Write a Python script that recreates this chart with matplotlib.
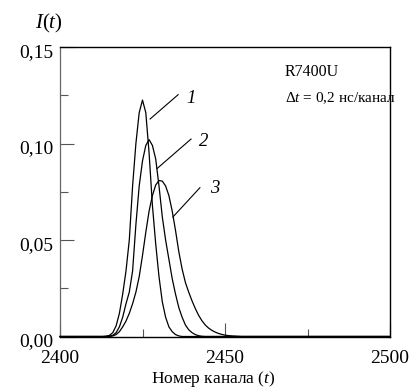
import numpy as np
import matplotlib
matplotlib.use("Agg")
import matplotlib.pyplot as plt
import matplotlib.transforms as mtransforms

plt.rcParams['font.family'] = ['Liberation Serif', 'DejaVu Serif']
plt.rcParams['mathtext.fontset'] = 'custom'
plt.rcParams['mathtext.rm'] = 'Liberation Serif'
plt.rcParams['mathtext.it'] = 'Liberation Serif:italic'
plt.rcParams['mathtext.bf'] = 'Liberation Serif:bold'

# channel axis
channels = np.arange(2400, 2501)

# curve 1 (non-zero region starting at channel 2413)
c1_start = 2413
c1_vals = [0.0000, 0.0002, 0.0006, 0.0020, 0.0055, 0.0120, 0.0220, 0.0340,
           0.0500, 0.0780, 0.1000, 0.1160, 0.1225, 0.1160, 0.0950, 0.0680,
           0.0480, 0.0310, 0.0180, 0.0100, 0.0050, 0.0025, 0.0010, 0.0003, 0.0000]

# curve 2
c2_start = 2414
c2_vals = [0.0000, 0.0002, 0.0006, 0.0020, 0.0050, 0.0100, 0.0170, 0.0230,
           0.0340, 0.0580, 0.0780, 0.0910, 0.0990, 0.1020, 0.0990, 0.0920,
           0.0780, 0.0620, 0.0500, 0.0400, 0.0300, 0.0220, 0.0150, 0.0100,
           0.0060, 0.0035, 0.0020, 0.0010, 0.0004, 0.0001, 0.0000]

# curve 3
c3_start = 2415
c3_vals = [0.0000, 0.0003, 0.0010, 0.0025, 0.0050, 0.0080, 0.0120, 0.0170,
           0.0230, 0.0310, 0.0420, 0.0540, 0.0650, 0.0730, 0.0785, 0.0808,
           0.0805, 0.0780, 0.0730, 0.0650, 0.0550, 0.0440, 0.0350, 0.0280,
           0.0230, 0.0185, 0.0145, 0.0110, 0.0082, 0.0060, 0.0044, 0.0032,
           0.0023, 0.0016, 0.0011, 0.0007, 0.0005, 0.0003, 0.0002, 0.0001, 0.0000]

curve_labels = ['1', '2', '3']
# leader lines: (curve point) -> (label end), label position
leader_from = [(2427.3, 0.1127), (2429.4, 0.0870), (2434.2, 0.0619)]
leader_to = [(2435.8, 0.1253), (2439.7, 0.1023), (2442.4, 0.0771)]
label_pos = [(2438.3, 0.1235), (2442.0, 0.1012), (2445.6, 0.0766)]

x_ticks_major = [2400, 2450, 2500]
x_tick_labels = ['2400', '2450', '2500']
y_ticks_major = [0.00, 0.05, 0.10, 0.15]
y_tick_labels = ['0,00', '0,05', '0,10', '0,15']


def full_series(start, vals):
    y = np.zeros_like(channels, dtype=float)
    i0 = start - channels[0]
    y[i0:i0 + len(vals)] = vals
    return y


W, H = 409, 390
fig = plt.figure(figsize=(W / 100, H / 100), dpi=100)
ax = fig.add_axes([60 / W, (H - 336.5) / H, 330 / W, 289.5 / H])

for start, vals in [(c1_start, c1_vals), (c2_start, c2_vals), (c3_start, c3_vals)]:
    ax.plot(channels, full_series(start, vals), color='black', lw=0.9,
            clip_on=False, zorder=3)

for (x0, y0), (x1, y1), (tx, ty), lab in zip(leader_from, leader_to, label_pos, curve_labels):
    ax.plot([x0, x1], [y0, y1], color='black', lw=0.8)
    ax.text(tx, ty, lab, fontsize=13.5, fontstyle='italic', ha='left', va='center')

fig.text(285 / W, 1 - 72 / H, 'R7400U', fontsize=11.5, ha='left', va='center')
fig.text(285 / W, 1 - 98 / H, r'$\Delta t$ = 0,2 нс/канал', fontsize=11, ha='left', va='center')

ax.set_xlim(2400, 2500)
ax.set_ylim(0, 0.15)
ax.set_xticks(x_ticks_major)
ax.set_xticklabels(x_tick_labels)
ax.set_xticks([2425, 2475], minor=True)
ax.set_yticks(y_ticks_major)
ax.set_yticklabels(y_tick_labels)
ax.set_yticks([0.025, 0.075, 0.125], minor=True)
ax.tick_params(axis='both', which='both', direction='in', labelsize=14,
               top=False, right=False, color='#555555')
ax.tick_params(axis='both', which='major', length=10, width=0.8)
ax.tick_params(axis='both', which='minor', length=6, width=0.8)
ax.tick_params(axis='x', which='major', pad=10)
ax.tick_params(axis='y', which='major', pad=5)
offset = mtransforms.ScaledTranslation(0, -2.5 / 72, fig.dpi_scale_trans)
for lab in ax.get_yticklabels():
    lab.set_transform(lab.get_transform() + offset)
for s in ax.spines.values():
    s.set_linewidth(1.0)
ax.spines['left'].set_color('#666666')
ax.spines['left'].set_linewidth(0.9)

fig.text(213 / W, 1 - 379 / H, r'Номер канала ($t$)', fontsize=12.5, ha='center', va='center')
fig.text(49 / W, 1 - 23 / H, r'$I$($t$)', fontsize=15, ha='center', va='center')

fig.savefig('out.png', dpi=100)
